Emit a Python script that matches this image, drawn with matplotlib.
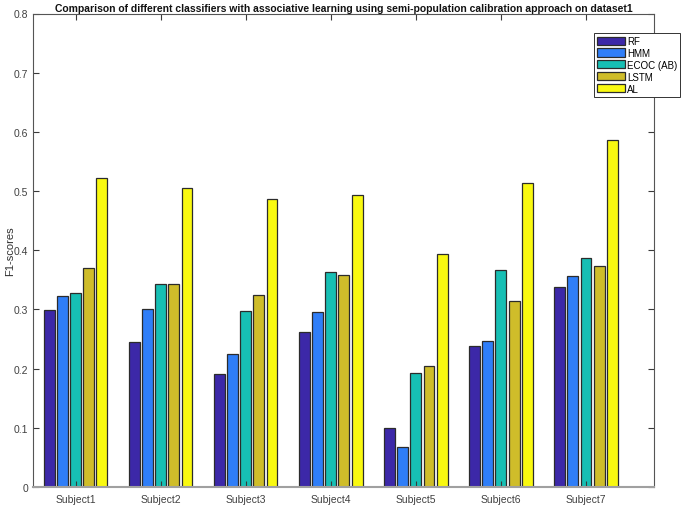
import matplotlib
matplotlib.use("Agg")
import matplotlib.pyplot as plt
import numpy as np

plt.rcParams['font.family'] = ['Liberation Sans', 'DejaVu Sans']

subjects = ["Subject1", "Subject2", "Subject3", "Subject4", "Subject5", "Subject6", "Subject7"]
series_names = ["RF", "HMM", "ECOC (AB)", "LSTM", "AL"]
rf = [0.299, 0.245, 0.191, 0.262, 0.099, 0.239, 0.338]
hmm = [0.323, 0.300, 0.224, 0.296, 0.067, 0.247, 0.357]
ecoc = [0.327, 0.343, 0.298, 0.364, 0.192, 0.367, 0.387]
lstm = [0.370, 0.343, 0.325, 0.358, 0.204, 0.315, 0.373]
al = [0.522, 0.505, 0.487, 0.494, 0.394, 0.513, 0.586]
colors = ["#3c28a8", "#2f7ef8", "#17bfb4", "#cfbd2a", "#f9f910"]

series = [rf, hmm, ecoc, lstm, al]

fig = plt.figure(figsize=(6.85, 5.06), dpi=100)
ax = fig.add_axes([33/685, 18/506, 621/685, 473.5/506])

x = np.arange(1, len(subjects) + 1)
step = 0.155
width = 0.128
for i, (vals, name, c) in enumerate(zip(series, series_names, colors)):
    ax.bar(x + (i - 2) * step, vals, width=width, color=c, edgecolor="#2b2b2b",
           linewidth=0.9, label=name)

ax.set_xlim(0.5, 7.8)
ax.set_ylim(0, 0.8)
ax.set_xticks(x)
ax.set_xticklabels(subjects)
ax.set_yticks(np.arange(0, 0.81, 0.1))
ax.set_yticklabels(["0", "0.1", "0.2", "0.3", "0.4", "0.5", "0.6", "0.7", "0.8"])
ax.tick_params(direction="in", length=4, width=0.8, colors="#3a3a3a",
               labelcolor="#404040", labelsize=7.5, top=True, right=True)
ax.tick_params(axis="x", pad=5)
for s in ax.spines.values():
    s.set_color("#555555")
    s.set_linewidth(0.8)
ax.spines["bottom"].set_color("#a0a0a0")
ax.spines["bottom"].set_linewidth(1.5)

ax.set_ylabel("F1-scores", fontsize=8, color="#303030")
ax.yaxis.set_label_coords(-0.029, 0.5)
ax.set_title("Comparison of different classifiers with associative learning using semi-population calibration approach on dataset1",
             fontsize=7.5, fontweight="bold", color="#111111", pad=2)

leg = ax.legend(loc="upper right", bbox_to_anchor=(680/685, 1 - 34/506),
                bbox_transform=fig.transFigure, fontsize=7, frameon=True,
                fancybox=False, edgecolor="#333333", framealpha=1,
                handlelength=2.9, handleheight=0.9, handletextpad=0.2,
                borderpad=0.3, labelspacing=0.2, borderaxespad=0)
leg.get_frame().set_linewidth(0.7)

fig.savefig("out.png", dpi=100)
